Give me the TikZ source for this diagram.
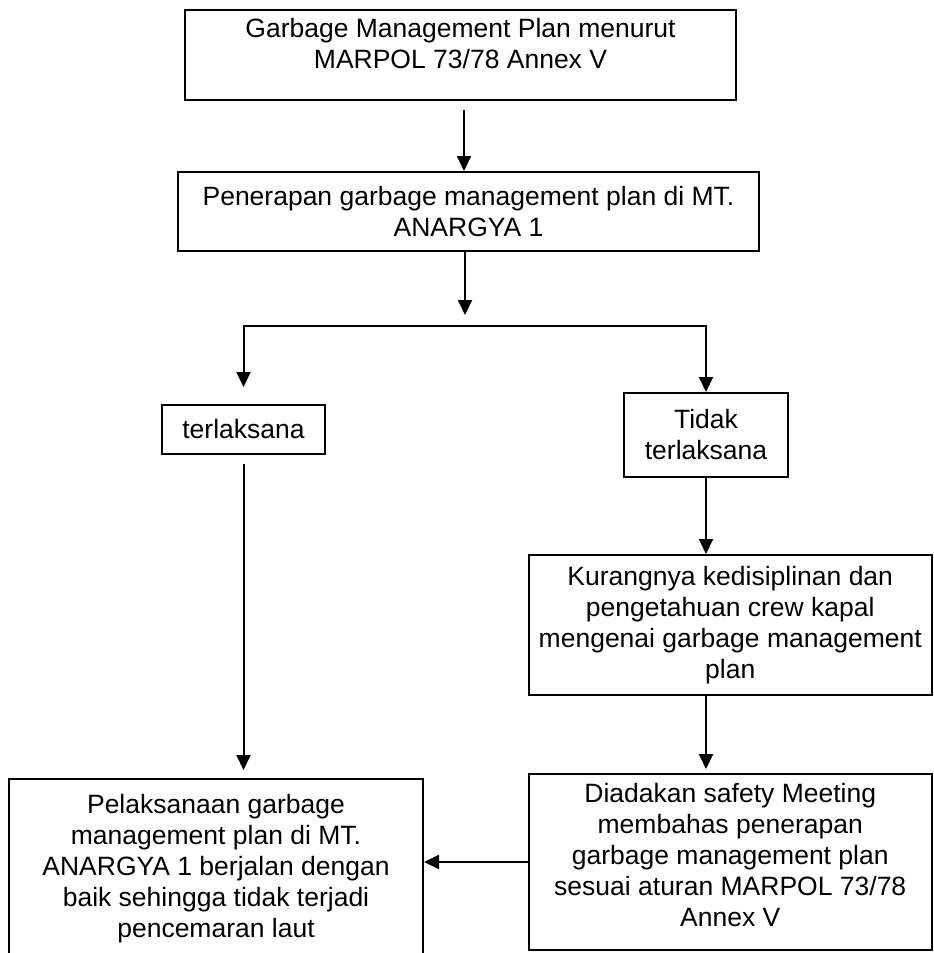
\documentclass[tikz,border=0pt]{standalone}
\usepackage{fontspec}
\setmainfont{Liberation Sans}
\usetikzlibrary{arrows.meta}

\begin{document}
\begin{tikzpicture}[x=0.5pt,y=-0.5pt,
  box/.style={draw,line width=1pt,align=center,inner sep=0pt,
    font=\fontsize{13.25}{15.5}\selectfont},
  arr/.style={line width=1pt,-{Triangle[length=7.5pt,width=7pt]}}]
\useasboundingbox (0,0) rectangle (933,953);
\clip (0,0) rectangle (933,953);

\node[box,minimum width=275.5pt,minimum height=45pt] (plan) at (460.5,55)
  {Garbage Management Plan menurut\\MARPOL 73/78 Annex V\\[-3.5pt]\mbox{}};
\node[box,minimum width=290.5pt,minimum height=39.5pt] (terap) at (468.5,211.5)
  {Penerapan garbage management plan di MT.\\ANARGYA 1};

\node[box,minimum width=81.5pt,minimum height=24.5pt] (ok) at (243.5,429.5) {terlaksana};
\node[box,minimum width=82pt,minimum height=42pt] (notok) at (706,435) {Tidak\\terlaksana};

\node[box,minimum width=201.25pt,minimum height=70pt] (kurang) at (730.25,625)
  {Kurangnya kedisiplinan dan\\pengetahuan crew kapal\\mengenai garbage management\\plan};
\node[box,minimum width=201.25pt,minimum height=88pt] (rapat) at (730.25,862)
  {Diadakan safety Meeting\\membahas penerapan\\garbage management plan\\sesuai aturan MARPOL 73/78\\Annex V\\[-8.5pt]\mbox{}};
\node[box,minimum width=207pt,minimum height=90pt] (hasil) at (216,869)
  {Pelaksanaan garbage\\management plan di MT.\\ANARGYA 1 berjalan dengan\\baik sehingga tidak terjadi\\pencemaran laut};

\coordinate (split) at (465,326);

% alur utama
\draw[arr] ([shift={(3.5,9)}]plan.south) -- ([xshift=1.75pt]plan.south |- terap.north);
\draw[arr] ([xshift=-1.75pt]terap.south) -- ([yshift=5.5pt]split);
\draw[arr] (split) -| ([yshift=8.5pt]ok.north);
\draw[arr] (split) -| (notok.north);

% cabang kiri
\draw[arr] ([yshift=-4.5pt]ok.south) -- ([yshift=4pt]ok.south |- hasil.north);

% cabang kanan
\draw[arr] (notok.south) -- (notok.south |- kurang.north);
\draw[arr] (notok.south |- kurang.south) -- ([yshift=2pt]notok.south |- rapat.north);
\draw[arr] (rapat.west) -- (rapat.west -| hasil.east);

\end{tikzpicture}
\end{document}
